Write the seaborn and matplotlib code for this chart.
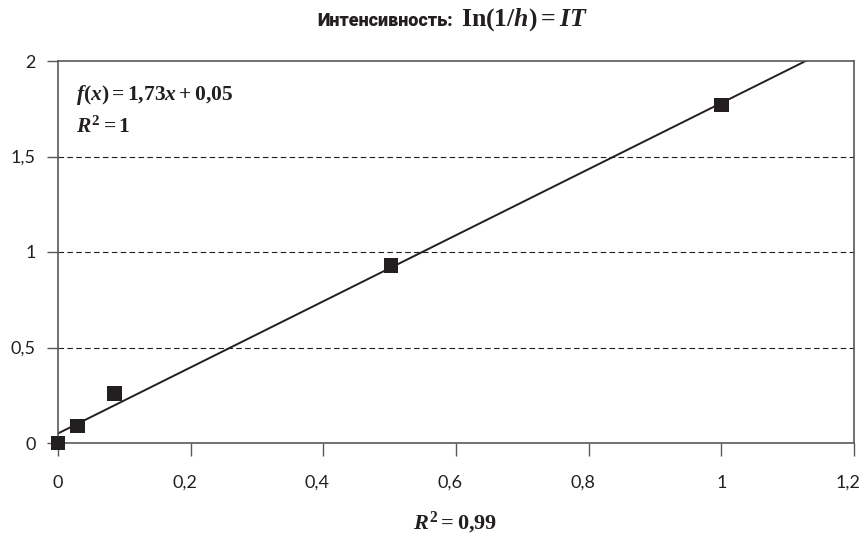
import matplotlib
matplotlib.use("Agg")
import matplotlib.pyplot as plt
import matplotlib.transforms as mtransforms
import seaborn as sns
import numpy as np
import pandas as pd

# data
x_vals = [0.0, 0.029, 0.085, 0.502, 1.0]
y_vals = [0.0, 0.09, 0.26, 0.93, 1.77]
slope = 1.73
intercept = 0.05
x_ticks = [0, 0.2, 0.4, 0.6, 0.8, 1.0, 1.2]
x_tick_labels = ["0", "0,2", "0,4", "0,6", "0,8", "1", "1,2"]
y_ticks = [0, 0.5, 1.0, 1.5, 2.0]
y_tick_labels = ["0", "0,5", "1", "1,5", "2"]

sns.set_theme(style="white")
plt.rcParams['font.family'] = ['Lato', 'DejaVu Sans']
plt.rcParams['mathtext.fontset'] = 'custom'
plt.rcParams['mathtext.rm'] = 'Liberation Serif:bold'
plt.rcParams['mathtext.it'] = 'Liberation Serif:italic:bold'
plt.rcParams['mathtext.bf'] = 'Liberation Serif:bold'

fig = plt.figure(figsize=(8.62, 5.36), dpi=100)
ax = fig.add_axes([58/862, 1-443/536, (854-58)/862, (443-61)/536])

df = pd.DataFrame({"x": x_vals, "y": y_vals})
xl = np.array([0.0, 1.2])
line_df = pd.DataFrame({"x": xl, "y": slope*xl + intercept})
sns.lineplot(data=line_df, x="x", y="y", ax=ax, color="#231f20", linewidth=1.4)
sns.scatterplot(data=df, x="x", y="y", ax=ax, marker="s", s=110, color="#231f20",
                edgecolor="none", clip_on=False, zorder=5)

ax.set_xlim(0, 1.2)
ax.set_ylim(0, 2)
ax.set_xticks(x_ticks)
ax.set_xticklabels(x_tick_labels)
ax.set_yticks(y_ticks)
ax.set_yticklabels(y_tick_labels)
for yv in [0.5, 1.0, 1.5]:
    ax.axhline(yv, color="#231f20", linestyle=(0, (5, 3)), linewidth=0.8, zorder=1)

for s in ax.spines.values():
    s.set_color("#58595b")
    s.set_linewidth(1.2)
ax.tick_params(axis='y', direction='out', length=8, width=1, color="#58595b",
               pad=8, labelsize=13, labelcolor="#231f20", left=True)
ax.tick_params(axis='x', direction='out', length=9, width=1, color="#58595b",
               pad=14, labelsize=13, labelcolor="#231f20", bottom=True)
ax.set_xlabel("")
ax.set_ylabel("")

shift = mtransforms.ScaledTranslation(-6/100, 0, fig.dpi_scale_trans)
for lab in ax.get_xticklabels():
    if "," in lab.get_text():
        lab.set_transform(lab.get_transform() + shift)

ax.text(18/796, (443-100)/382, r"$f(x)=1{,}73x+0{,}05$", transform=ax.transAxes,
        fontsize=15.5, color="#231f20", va="baseline")
ax.text(18/796, (443-133)/382, r"$R^2=1$", transform=ax.transAxes,
        fontsize=15.5, color="#231f20", va="baseline")

fig.text(453/862, 1-26/536, "Интенсивность:",
         ha="right", va="baseline", fontsize=13, fontweight="black",
         family=["Roboto", "DejaVu Sans"], color="#231f20")
fig.text(461/862, 1-26/536, r"$\mathrm{In}(1/h)=IT$",
         ha="left", va="baseline", fontsize=18.5, color="#231f20")
fig.text(455/862, 1-529/536, r"$R^2=0{,}99$", ha="center", va="baseline",
         fontsize=16, color="#231f20")

fig.savefig("out.png", dpi=100)
